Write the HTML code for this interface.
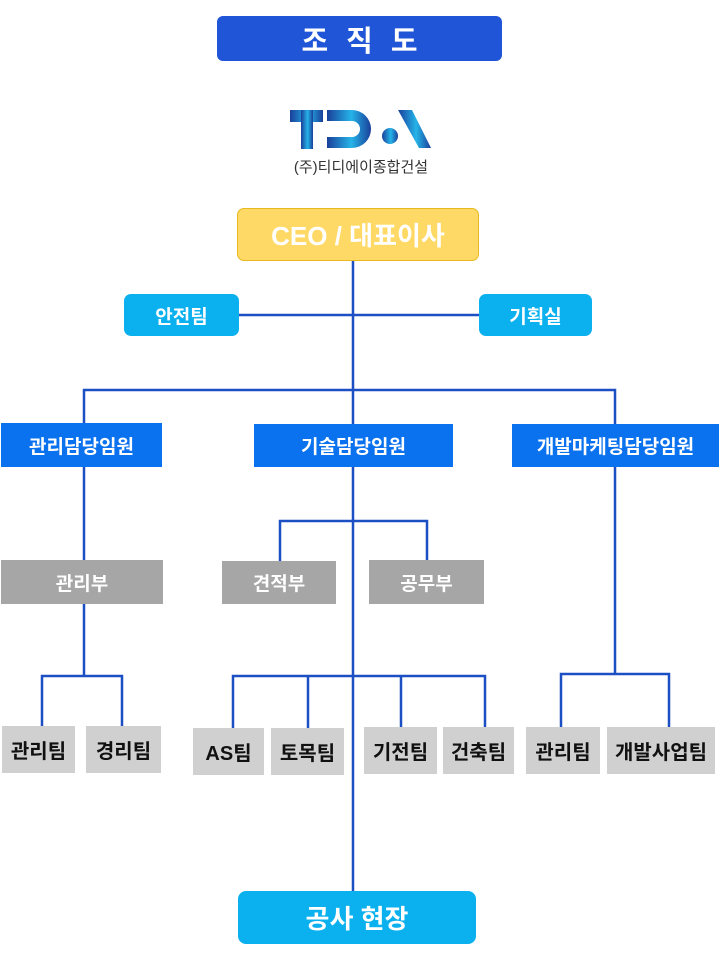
<!DOCTYPE html>
<html><head><meta charset="utf-8"><style>
body{margin:0;width:720px;height:960px;background:#fff;position:relative;overflow:hidden;font-family:"Liberation Sans","Noto Sans CJK KR","NanumGothic",sans-serif;}
.b{position:absolute;display:flex;align-items:center;justify-content:center;font-weight:bold;color:#fff;box-sizing:border-box;}
.t{color:#111;background:#d0d0d0;font-size:20px;}
.g{background:#a6a6a6;font-size:19px;}
.bl{background:#0a72ee;font-size:19px;}
.sky{background:#0bb0ee;border-radius:7px;font-size:19px;}
</style></head><body>
<svg style="position:absolute;left:0;top:0" width="720" height="960">
<g stroke="#1c4fc4" stroke-width="2.5" fill="none">
<line x1="353" y1="261" x2="353" y2="892"/>
<line x1="239" y1="315" x2="479" y2="315"/>
<polyline points="84,426 84,390 615,390 615,426"/>
<line x1="84" y1="467" x2="84" y2="562"/>
<polyline points="280,562 280,521 427,521 427,562"/>
<line x1="84" y1="604" x2="84" y2="676"/>
<polyline points="42,727 42,676 122,676 122,727"/>
<polyline points="233,729 233,676 485,676 485,729"/>
<line x1="308" y1="676" x2="308" y2="729"/>
<line x1="401" y1="676" x2="401" y2="729"/>
<line x1="615" y1="467" x2="615" y2="674"/>
<polyline points="561,727 561,674 669,674 669,727"/>
</g>
<defs><linearGradient id="lg" x1="0" x2="1"><stop offset="0" stop-color="#1a3f9a"/><stop offset="0.55" stop-color="#25b4e8"/><stop offset="1" stop-color="#1a3f9a"/></linearGradient></defs>
<g fill="url(#lg)">
<rect x="290" y="110" width="33" height="12"/>
<rect x="301" y="110" width="12" height="39"/>
<path d="M327 110 H352 A19 19 0 0 1 352 148 H327 V137 H352 A8 8 0 0 0 352 121 H327 Z"/>
<circle cx="390" cy="136" r="8"/>
<path d="M398 110 H412 L431 148 H419 Z"/>
</g>
<text x="361" y="172" font-size="15" fill="#333" text-anchor="middle" font-family="Liberation Sans,Noto Sans CJK KR,sans-serif">(주)티디에이종합건설</text>
</svg>
<div class="b" style="left:217px;top:16px;width:285px;height:45px;background:#1f55d6;border-radius:6px;font-size:29px;letter-spacing:18px;padding-left:18px">조직도</div>
<div class="b" style="left:237px;top:208px;width:242px;height:53px;background:#ffd966;border:1px solid #e8b820;border-radius:7px;font-size:26px">CEO / 대표이사</div>
<div class="b sky" style="left:124px;top:294px;width:115px;height:42px">안전팀</div>
<div class="b sky" style="left:479px;top:294px;width:113px;height:42px">기획실</div>
<div class="b bl" style="left:1px;top:423px;width:161px;height:44px">관리담당임원</div>
<div class="b bl" style="left:254px;top:424px;width:199px;height:43px">기술담당임원</div>
<div class="b bl" style="left:512px;top:424px;width:207px;height:43px">개발마케팅담당임원</div>
<div class="b g" style="left:1px;top:560px;width:162px;height:44px">관리부</div>
<div class="b g" style="left:222px;top:561px;width:114px;height:43px">견적부</div>
<div class="b g" style="left:369px;top:560px;width:115px;height:44px">공무부</div>
<div class="b t" style="left:2px;top:726px;width:73px;height:47px">관리팀</div>
<div class="b t" style="left:86px;top:726px;width:75px;height:47px">경리팀</div>
<div class="b t" style="left:193px;top:728px;width:71px;height:47px">AS팀</div>
<div class="b t" style="left:271px;top:728px;width:73px;height:47px">토목팀</div>
<div class="b t" style="left:364px;top:727px;width:73px;height:47px">기전팀</div>
<div class="b t" style="left:443px;top:727px;width:71px;height:47px">건축팀</div>
<div class="b t" style="left:526px;top:727px;width:74px;height:47px">관리팀</div>
<div class="b t" style="left:607px;top:727px;width:108px;height:47px">개발사업팀</div>
<div class="b sky" style="left:238px;top:891px;width:238px;height:53px;font-size:26px;border-radius:8px">공사 현장</div>
</body></html>
